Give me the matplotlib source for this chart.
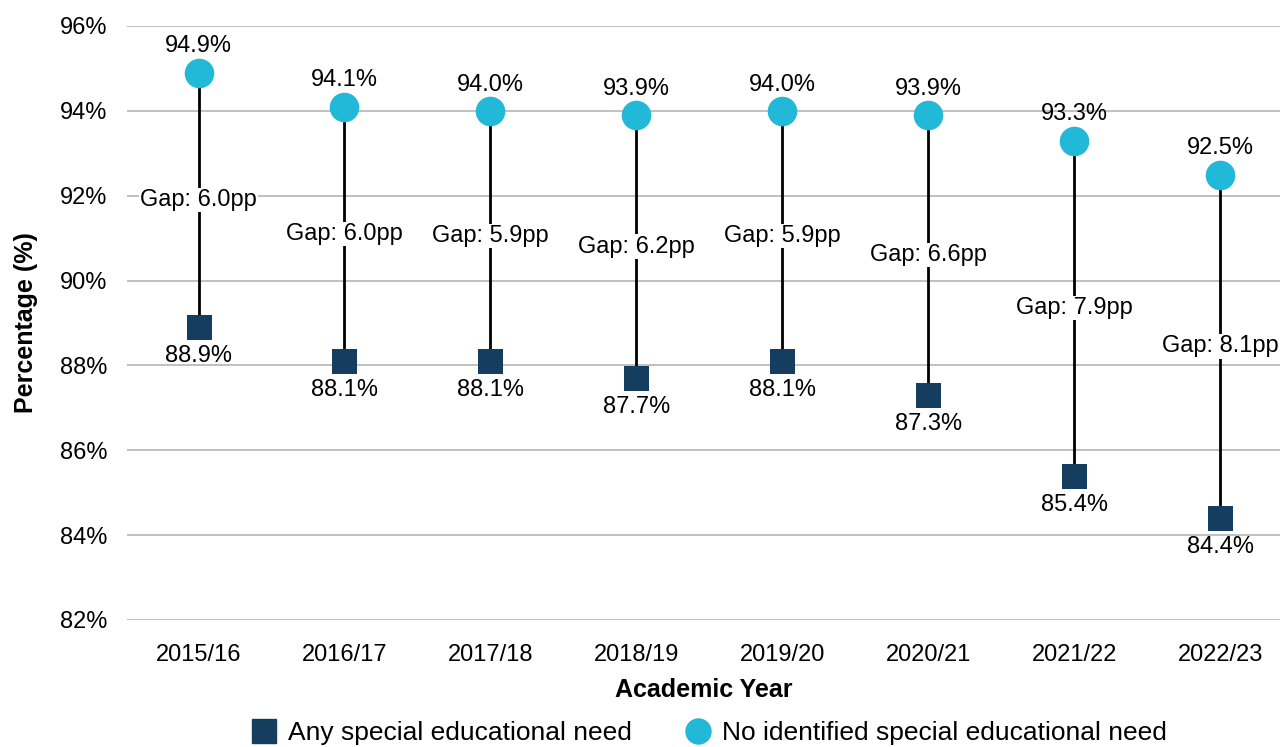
import matplotlib
matplotlib.use("Agg")
import matplotlib.pyplot as plt
from matplotlib.lines import Line2D

years = ["2015/16", "2016/17", "2017/18", "2018/19", "2019/20", "2020/21", "2021/22", "2022/23"]
no_sen = [94.9, 94.1, 94.0, 93.9, 94.0, 93.9, 93.3, 92.5]
any_sen = [88.9, 88.1, 88.1, 87.7, 88.1, 87.3, 85.4, 84.4]
gaps = [6.0, 6.0, 5.9, 6.2, 5.9, 6.6, 7.9, 8.1]
yticks = [82, 84, 86, 88, 90, 92, 94, 96]

plt.rcParams['font.family'] = ['Liberation Sans', 'DejaVu Sans']
NAVY = "#143d60"
CYAN = "#22b8d8"

fig = plt.figure(figsize=(12.8, 7.47), dpi=100)
ax = fig.add_axes([127/1280, 1-620/747, (1280-127)/1280, (620-26)/747])

x = list(range(len(years)))
for i in x:
    ax.plot([i, i], [any_sen[i], no_sen[i]], color="black", lw=2, zorder=2)
ax.scatter(x, no_sen, s=24**2*0.75*0.75*1.4, marker='o', color=CYAN, zorder=3, linewidths=0)
ax.scatter(x, any_sen, s=24**2*0.75*0.75, marker='s', color=NAVY, zorder=3, linewidths=0)

FS = 17
for i in x:
    ax.annotate(f"{no_sen[i]:.1f}%", (i, no_sen[i]), xytext=(0, 11), textcoords="offset points",
                ha="center", va="bottom", fontsize=FS, color="black")
    ax.annotate(f"{any_sen[i]:.1f}%", (i, any_sen[i]), xytext=(0, -13), textcoords="offset points",
                ha="center", va="top", fontsize=FS, color="black")
    mid = (no_sen[i] + any_sen[i]) / 2
    ax.text(i, mid, f"Gap: {gaps[i]:.1f}pp", ha="center", va="center", fontsize=FS, color="black",
            zorder=4, bbox=dict(boxstyle="square,pad=0.05", facecolor="white", edgecolor="none"))

ax.set_ylim(82, 96)
ax.set_xlim(-0.49, 7.41)
ax.set_yticks(yticks)
ax.set_yticklabels([f"{v}%" for v in yticks], fontsize=17)
ax.set_xticks(x)
ax.set_xticklabels(years, fontsize=17)
ax.tick_params(axis='y', length=0, pad=14)
ax.tick_params(axis='x', length=0, pad=17)
ax.grid(axis='y', color="#b5b5b5", lw=1.2)
ax.set_axisbelow(True)
for s in ax.spines.values():
    s.set_visible(False)

ax.set_ylabel("Percentage (%)", fontsize=18, fontweight="bold", labelpad=16)
ax.set_xlabel("Academic Year", fontsize=18, fontweight="bold", labelpad=9)

handles = [Line2D([], [], marker='s', color=NAVY, linestyle='none', markersize=17),
           Line2D([], [], marker='o', color=CYAN, linestyle='none', markersize=18)]
fig.legend(handles, ["Any special educational need", "No identified special educational need"],
           loc="center", bbox_to_anchor=(709/1280, 1-733/747), ncol=2, frameon=False,
           fontsize=19, handletextpad=0.4, columnspacing=2.0, handlelength=1.0)

fig.savefig("out.png", dpi=100)
